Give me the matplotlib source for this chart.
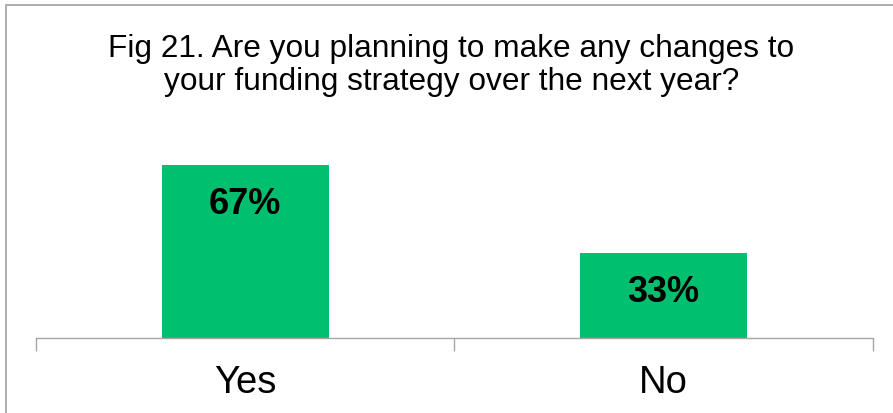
"""Fig 21 survey chart: planned funding strategy changes."""

import matplotlib

matplotlib.use("Agg")

import matplotlib.pyplot as plt  # noqa: E402
from matplotlib.patches import Rectangle  # noqa: E402

categories = ["Yes", "No"]
shares = [67, 33]
value_labels = ["67%", "33%"]
title_lines = [
    "Fig 21. Are you planning to make any changes to",
    "your funding strategy over the next year?",
]

plt.rcParams["font.family"] = ["Liberation Sans", "DejaVu Sans"]

W, H = 893, 414
fig = plt.figure(figsize=(W / 100, H / 100), dpi=100)

# axes box in pixel terms: x 36..873, baseline at y=339
ax = fig.add_axes([36 / W, (H - 339) / H, (873 - 36) / W, (339 - 132) / H])
x = list(range(len(categories)))
ax.bar(x, shares, width=0.4, color="#00BF6F", zorder=2)
ax.set_xlim(-0.5, len(categories) - 0.5)
ax.set_ylim(0, 80)

for xi, val, lab in zip(x, shares, value_labels):
    ax.annotate(
        lab,
        (xi, val),
        xytext=(0, -34.5),
        textcoords="offset points",
        ha="center",
        va="baseline",
        fontsize=26,
        fontweight="bold",
        color="black",
    )

for side in ["top", "right", "left"]:
    ax.spines[side].set_visible(False)
ax.spines["bottom"].set_color("#A6A6A6")
ax.spines["bottom"].set_linewidth(1.0)
ax.set_yticks([])
ax.set_xticks([-0.5, 0.5, 1.5])
ax.set_xticklabels([])
ax.set_xticks(x, minor=True)
ax.set_xticklabels(categories, minor=True, fontsize=27.5)
ax.tick_params(axis="x", which="major", length=9, color="#A6A6A6", width=1.0)
ax.tick_params(axis="x", which="minor", length=0, pad=19)

# title as two lines placed by baseline
for line, base in zip(title_lines, [57, 90]):
    fig.text(0.5 + 5 / W, 1 - base / H, line, ha="center", va="baseline",
             fontsize=22.8)

fig.patches.append(
    Rectangle((5.5 / W, -0.1), 1.2, (H - 5.5) / H + 0.1,
              transform=fig.transFigure, fill=False,
              edgecolor="#A0A0A0", linewidth=1.2, clip_on=False)
)

fig.savefig("out.png", dpi=100)
